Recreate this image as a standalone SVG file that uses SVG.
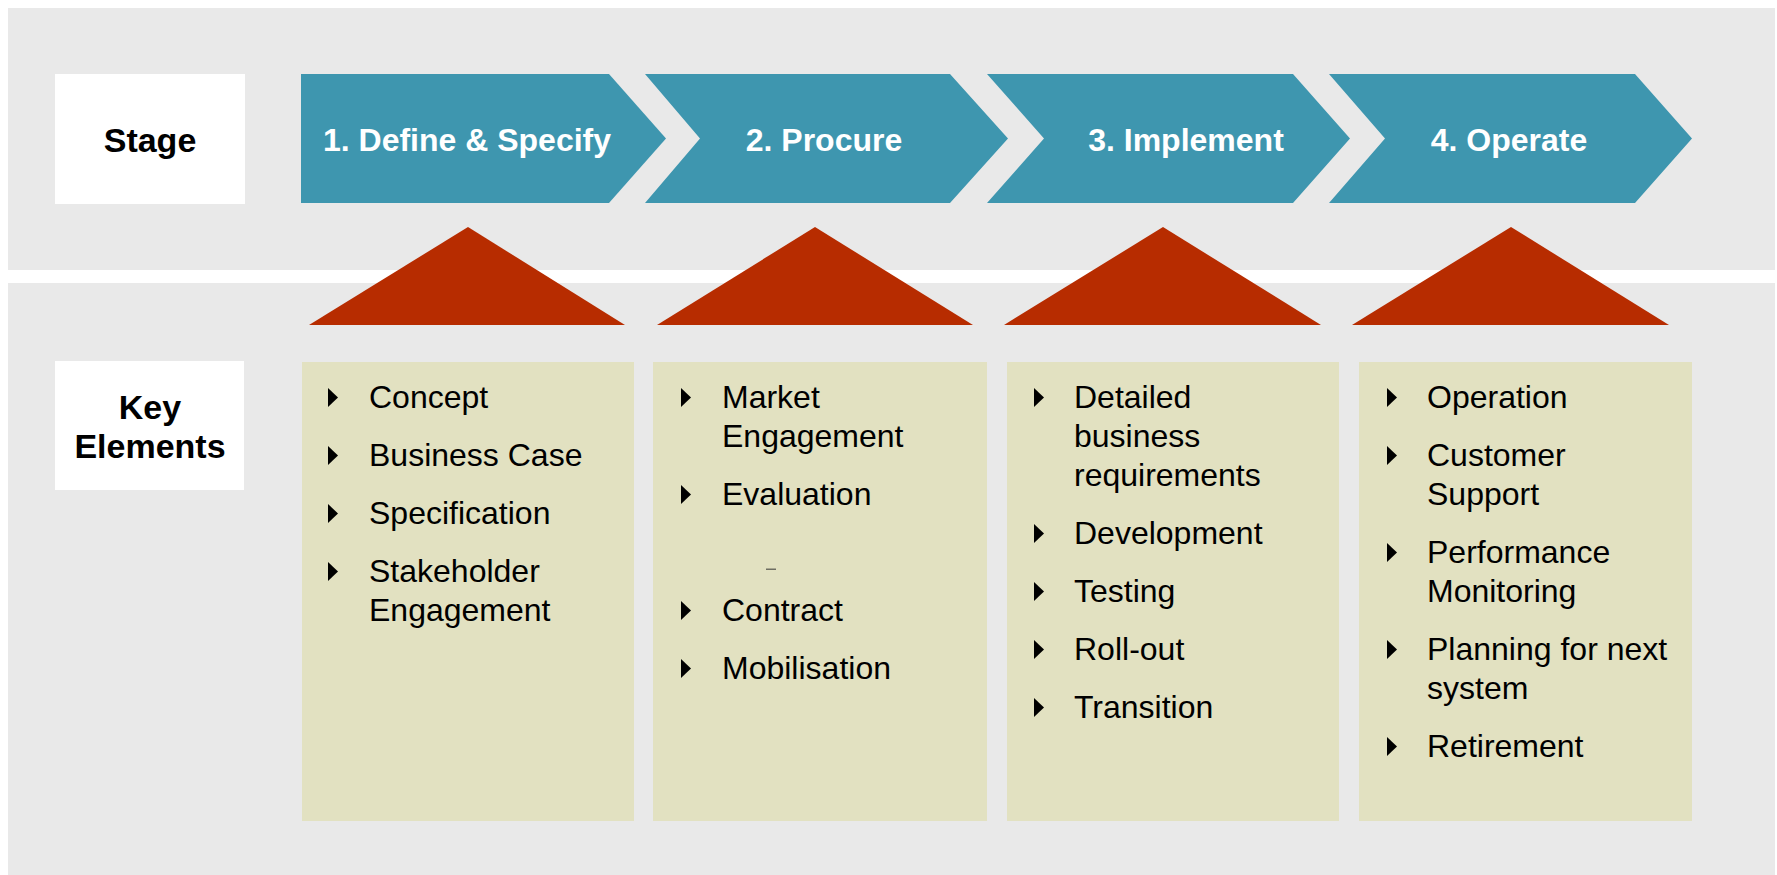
<svg xmlns="http://www.w3.org/2000/svg" width="1777" height="875" viewBox="0 0 1777 875">
<defs>
<style>
.panel{fill:#E9E9E9}
.label{fill:#FFFFFF}
.chev{fill:#3E96AF}
.tri{fill:#B72C00}
.box{fill:#E2E1C1}
.hd{font-family:"Liberation Sans",Arial,sans-serif;font-weight:bold;font-size:34px;fill:#000;text-anchor:middle}
.ct{font-family:"Liberation Sans",Arial,sans-serif;font-weight:bold;font-size:32px;fill:#FFF;text-anchor:middle}
.it{font-family:"Liberation Sans",Arial,sans-serif;font-size:32px;fill:#000}
.bl{fill:#000}
</style>
<path id="b" d="M0,0 L10,9.5 L0,19 Z"/>
</defs>
<rect width="1777" height="875" fill="#FFFFFF"/>
<rect class="panel" x="8" y="8" width="1767" height="262"/>
<rect class="panel" x="8" y="283" width="1767" height="592"/>

<g id="stage-label">
<rect class="label" x="55" y="74" width="190" height="130"/>
<text class="hd" x="150" y="152">Stage</text>
</g>
<g id="key-label">
<rect class="label" x="55" y="361" width="189" height="129"/>
<text class="hd" x="150" y="419">Key</text>
<text class="hd" x="150" y="458">Elements</text>
</g>

<g id="stage1">
<path class="chev" d="M301,74 L609,74 L666,138.5 L609,203 L301,203 Z"/>
<text class="ct" x="467" y="151">1. Define &amp; Specify</text>
</g>
<g id="stage2">
<path class="chev" d="M645,74 L950,74 L1008,138.5 L950,203 L645,203 L700,138.5 Z"/>
<text class="ct" x="824" y="151">2. Procure</text>
</g>
<g id="stage3">
<path class="chev" d="M987,74 L1293,74 L1350,138.5 L1293,203 L987,203 L1044,138.5 Z"/>
<text class="ct" x="1186" y="151">3. Implement</text>
</g>
<g id="stage4">
<path class="chev" d="M1329,74 L1635,74 L1692,138.5 L1635,203 L1329,203 L1385,138.5 Z"/>
<text class="ct" x="1509" y="151">4. Operate</text>
</g>

<g id="connectors">
<path class="tri" d="M309,325 L468,227 L625,325 Z"/>
<path class="tri" d="M657,325 L815,227 L973,325 Z"/>
<path class="tri" d="M1004,325 L1163,227 L1321,325 Z"/>
<path class="tri" d="M1352,325 L1511,227 L1669,325 Z"/>
</g>

<g id="elements1">
<rect class="box" x="302" y="362" width="332" height="459"/>
<use href="#b" x="328" y="388"/>
<text class="it" x="369" y="408">Concept</text>
<use href="#b" x="328" y="446"/>
<text class="it" x="369" y="466">Business Case</text>
<use href="#b" x="328" y="504"/>
<text class="it" x="369" y="524">Specification</text>
<use href="#b" x="328" y="562"/>
<text class="it" x="369" y="582">Stakeholder</text>
<text class="it" x="369" y="621">Engagement</text>
</g>

<g id="elements2">
<rect class="box" x="653" y="362" width="334" height="459"/>
<use href="#b" x="681" y="388"/>
<text class="it" x="722" y="408">Market</text>
<text class="it" x="722" y="447">Engagement</text>
<use href="#b" x="681" y="485"/>
<text class="it" x="722" y="505">Evaluation</text>
<rect x="766" y="568.5" width="10" height="1.5" fill="#6E6E62"/>
<use href="#b" x="681" y="601"/>
<text class="it" x="722" y="621">Contract</text>
<use href="#b" x="681" y="659"/>
<text class="it" x="722" y="679">Mobilisation</text>
</g>

<g id="elements3">
<rect class="box" x="1007" y="362" width="332" height="459"/>
<use href="#b" x="1034" y="388"/>
<text class="it" x="1074" y="408">Detailed</text>
<text class="it" x="1074" y="447">business</text>
<text class="it" x="1074" y="486">requirements</text>
<use href="#b" x="1034" y="524"/>
<text class="it" x="1074" y="544">Development</text>
<use href="#b" x="1034" y="582"/>
<text class="it" x="1074" y="602">Testing</text>
<use href="#b" x="1034" y="640"/>
<text class="it" x="1074" y="660">Roll-out</text>
<use href="#b" x="1034" y="698"/>
<text class="it" x="1074" y="718">Transition</text>
</g>

<g id="elements4">
<rect class="box" x="1359" y="362" width="333" height="459"/>
<use href="#b" x="1387" y="388"/>
<text class="it" x="1427" y="408">Operation</text>
<use href="#b" x="1387" y="446"/>
<text class="it" x="1427" y="466">Customer</text>
<text class="it" x="1427" y="505">Support</text>
<use href="#b" x="1387" y="543"/>
<text class="it" x="1427" y="563">Performance</text>
<text class="it" x="1427" y="602">Monitoring</text>
<use href="#b" x="1387" y="640"/>
<text class="it" x="1427" y="660">Planning for next</text>
<text class="it" x="1427" y="699">system</text>
<use href="#b" x="1387" y="737"/>
<text class="it" x="1427" y="757">Retirement</text>
</g>
</svg>
